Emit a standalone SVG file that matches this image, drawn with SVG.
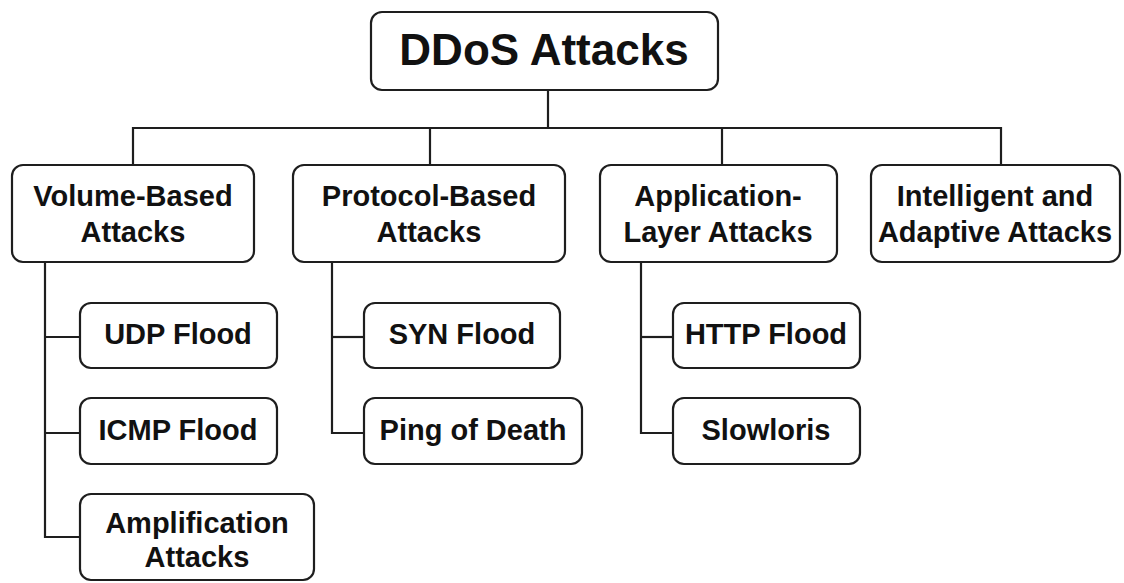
<svg xmlns="http://www.w3.org/2000/svg" width="1124" height="583" viewBox="0 0 1124 583">
  <style>
    .box { fill: #ffffff; stroke: #1e1e1e; stroke-width: 2.2; }
    .wire { fill: none; stroke: #1e1e1e; stroke-width: 2.2; }
    .label { font-family: "Liberation Sans", Arial, Helvetica, sans-serif; font-weight: bold; fill: #111111; text-anchor: middle; }
    .root { font-size: 44px; }
    .node { font-size: 29px; }
  </style>
  <rect width="1124" height="583" fill="#ffffff"/>

  <!-- tree connectors -->
  <g id="connectors" class="wire">
    <path d="M548 90 V128"/>
    <path d="M133 165 V128 H1001 V165"/>
    <path d="M430 128 V165"/>
    <path d="M722 128 V165"/>
    <!-- volume-based branch -->
    <path d="M45 262 V537 H80"/>
    <path d="M45 337 H80"/>
    <path d="M45 433 H80"/>
    <!-- protocol-based branch -->
    <path d="M332 262 V433 H364"/>
    <path d="M332 337 H364"/>
    <!-- application-layer branch -->
    <path d="M641 262 V433 H673"/>
    <path d="M641 337 H673"/>
  </g>

  <g id="ddos-attacks">
    <rect class="box" x="371" y="12" width="347" height="78" rx="11"/>
    <text class="label root" x="544" y="65">DDoS Attacks</text>
  </g>

  <g id="volume-based">
    <rect class="box" x="12" y="165" width="242" height="97" rx="11"/>
    <text class="label node" x="133" y="206">Volume-Based</text>
    <text class="label node" x="133" y="242">Attacks</text>
  </g>

  <g id="protocol-based">
    <rect class="box" x="293" y="165" width="272" height="97" rx="11"/>
    <text class="label node" x="429" y="206">Protocol-Based</text>
    <text class="label node" x="429" y="242">Attacks</text>
  </g>

  <g id="application-layer">
    <rect class="box" x="600" y="165" width="237" height="97" rx="11"/>
    <text class="label node" x="718" y="206">Application-</text>
    <text class="label node" x="718" y="242">Layer Attacks</text>
  </g>

  <g id="intelligent-adaptive">
    <rect class="box" x="871" y="165" width="249" height="97" rx="11"/>
    <text class="label node" x="995" y="206">Intelligent and</text>
    <text class="label node" x="995" y="242">Adaptive Attacks</text>
  </g>

  <g id="udp-flood">
    <rect class="box" x="80" y="303" width="197" height="65" rx="11"/>
    <text class="label node" x="178" y="344">UDP Flood</text>
  </g>

  <g id="icmp-flood">
    <rect class="box" x="80" y="398" width="197" height="66" rx="11"/>
    <text class="label node" x="178" y="440">ICMP Flood</text>
  </g>

  <g id="amplification-attacks">
    <rect class="box" x="80" y="494" width="234" height="86" rx="11"/>
    <text class="label node" x="197" y="533">Amplification</text>
    <text class="label node" x="197" y="567">Attacks</text>
  </g>

  <g id="syn-flood">
    <rect class="box" x="364" y="303" width="196" height="65" rx="11"/>
    <text class="label node" x="462" y="344">SYN Flood</text>
  </g>

  <g id="ping-of-death">
    <rect class="box" x="364" y="398" width="218" height="66" rx="11"/>
    <text class="label node" x="473" y="440">Ping of Death</text>
  </g>

  <g id="http-flood">
    <rect class="box" x="673" y="303" width="187" height="65" rx="11"/>
    <text class="label node" x="766" y="344">HTTP Flood</text>
  </g>

  <g id="slowloris">
    <rect class="box" x="673" y="398" width="187" height="66" rx="11"/>
    <text class="label node" x="766" y="440">Slowloris</text>
  </g>
</svg>
